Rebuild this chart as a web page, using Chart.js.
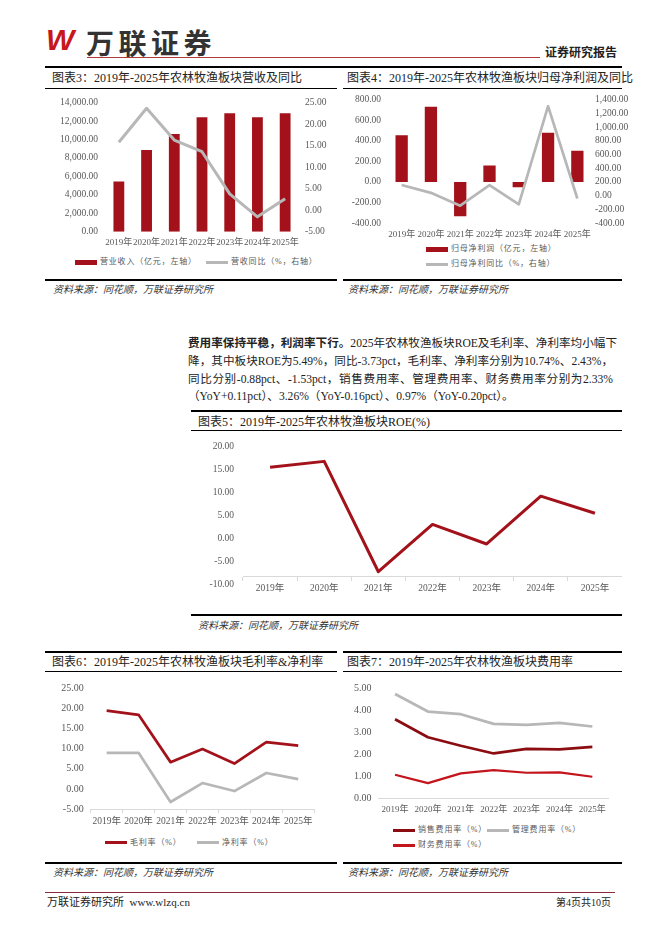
<!DOCTYPE html>
<html>
<head>
<meta charset="utf-8">
<script src="https://cdn.jsdelivr.net/npm/chart.js@4.4.0/dist/chart.umd.min.js"></script>
<style>
body{margin:0;width:662px;height:936px;background:#fff;position:relative;overflow:hidden;font-family:'Liberation Serif','Noto Sans CJK SC',serif;color:#222}
.a{position:absolute;white-space:nowrap}
.hr{position:absolute;background:#000}
.ttl{position:absolute;font-size:12px;line-height:16px;color:#222;white-space:nowrap}
.src{position:absolute;font-size:10px;line-height:14px;font-style:italic;color:#333;white-space:nowrap}
canvas{position:absolute}
.lg{position:absolute;font-size:8px;line-height:12px;letter-spacing:0.8px;color:#595959;white-space:nowrap}
.sw{position:absolute}
.para{position:absolute;left:188px;top:334px;width:425px;font-size:11.6px;line-height:17.8px;color:#222}
.para div{text-align:justify;text-align-last:justify;white-space:nowrap}
.para div.last{text-align-last:left}
</style>
</head>
<body>

<!-- header -->
<div class="a" style="left:46px;top:23px;font:italic bold 30px 'Liberation Sans';color:#c8161d">W</div>
<div class="a" style="left:86px;top:22px;font:bold 28px 'Noto Sans CJK SC';letter-spacing:4.5px;color:#333">万联证券</div>
<div class="hr" style="left:87px;top:57px;width:453px;height:1px;background:#b03a3a"></div>
<div class="a" style="left:545px;top:43px;font:bold 12px 'Noto Sans CJK SC';color:#222">证券研究报告</div>
<div class="hr" style="left:45px;top:66px;width:577px;height:2px"></div>

<!-- figure 3 / 4 frames -->
<div class="ttl" style="left:52px;top:70px">图表3：2019年-2025年农林牧渔板块营收及同比</div>
<div class="ttl" style="left:347px;top:70px">图表4：2019年-2025年农林牧渔板块归母净利润及同比</div>
<div class="hr" style="left:45px;top:88px;width:292px;height:1px"></div>
<div class="hr" style="left:343px;top:88px;width:279px;height:1px"></div>
<div class="hr" style="left:45px;top:279px;width:292px;height:2px"></div>
<div class="hr" style="left:343px;top:279px;width:279px;height:2px"></div>
<div class="src" style="left:53px;top:283px">资料来源：同花顺，万联证券研究所</div>
<div class="src" style="left:348px;top:283px">资料来源：同花顺，万联证券研究所</div>

<!-- paragraph -->
<div class="para">
<div><b style="font-family:'Noto Sans CJK SC'">费用率保持平稳，利润率下行。</b>2025年农林牧渔板块ROE及毛利率、净利率均小幅下</div>
<div>降，其中板块ROE为5.49%，同比-3.73pct，毛利率、净利率分别为10.74%、2.43%，</div>
<div>同比分别-0.88pct、-1.53pct，销售费用率、管理费用率、财务费用率分别为2.33%</div>
<div class="last">（YoY+0.11pct）、3.26%（YoY-0.16pct）、0.97%（YoY-0.20pct）。</div>
</div>

<!-- figure 5 frame -->
<div class="hr" style="left:191px;top:410px;width:431px;height:2px"></div>
<div class="ttl" style="left:198px;top:414px">图表5：2019年-2025年农林牧渔板块ROE(%)</div>
<div class="hr" style="left:191px;top:430px;width:431px;height:1px"></div>
<div class="hr" style="left:191px;top:614px;width:431px;height:2px"></div>
<div class="src" style="left:198px;top:619px">资料来源：同花顺，万联证券研究所</div>

<!-- figure 6 / 7 frames -->
<div class="hr" style="left:45px;top:651px;width:292px;height:2px"></div>
<div class="hr" style="left:343px;top:651px;width:279px;height:2px"></div>
<div class="ttl" style="left:52px;top:654px">图表6：2019年-2025年农林牧渔板块毛利率&amp;净利率</div>
<div class="ttl" style="left:347px;top:654px">图表7：2019年-2025年农林牧渔板块费用率</div>
<div class="hr" style="left:45px;top:671px;width:292px;height:1px"></div>
<div class="hr" style="left:343px;top:671px;width:279px;height:1px"></div>
<div class="hr" style="left:45px;top:862px;width:292px;height:2px"></div>
<div class="hr" style="left:343px;top:862px;width:279px;height:2px"></div>
<div class="src" style="left:53px;top:866px">资料来源：同花顺，万联证券研究所</div>
<div class="src" style="left:348px;top:866px">资料来源：同花顺，万联证券研究所</div>

<!-- footer -->
<div class="hr" style="left:45px;top:892px;width:570px;height:1px;background:#8b2c3c"></div>
<div class="a" style="left:47px;top:895px;font-size:11px;line-height:14px;color:#222">万联证券研究所&nbsp; www.wlzq.cn</div>
<div class="a" style="left:556px;top:896px;font-size:10px;line-height:13px;color:#222">第4页共10页</div>

<script>
var years = ['2019年', '2020年', '2021年', '2022年', '2023年', '2024年', '2025年'];

// 图表3 营收（亿元）及同比（%）
var revenue = [5460, 8860, 10600, 12430, 12860, 12430, 12860];
var revenueYoY = [15.8, 23.7, 16.3, 13.6, 3.8, -1.55, 2.65];

// 图表4 归母净利润（亿元）及同比（%）
var netProfit = [455, 732, -334, 159, -51, 478, 302];
var netProfitYoY = [154, 40, -147, 154, -128, 1305, -42];

// 图表5 ROE（%）
var roe = [15.5, 16.8, -7.26, 3.06, -1.21, 9.22, 5.49];

// 图表6 毛利率、净利率（%）
var grossMargin = [19.46, 18.4, 6.65, 9.9, 6.3, 11.62, 10.74];
var netMargin = [8.97, 8.97, -3.26, 1.45, -0.54, 3.96, 2.43];

// 图表7 费用率（%）
var salesRate = [3.59, 2.77, 2.38, 2.03, 2.24, 2.22, 2.33];
var adminRate = [4.74, 3.94, 3.82, 3.38, 3.33, 3.42, 3.26];
var financeRate = [1.06, 0.68, 1.12, 1.27, 1.15, 1.17, 0.97];

var RED = '#a3111a';
var DARKRED = '#8b0d12';
var BRIGHTRED = '#c4141c';
var GRAY = '#b7b7b7';
var AXIS = '#d9d9d9';

Chart.defaults.font.family = "'Liberation Serif','Noto Sans CJK SC',serif";
Chart.defaults.font.size = 9;
Chart.defaults.color = '#595959';
Chart.defaults.animation = false;
Chart.defaults.plugins.legend.display = false;
Chart.defaults.plugins.tooltip.enabled = false;

function fmt(v) {
    return Number(v).toLocaleString('en-US', {minimumFractionDigits: 2, maximumFractionDigits: 2});
}
function fixW(w) { return function(s) { s.width = w; }; }
function fixH(h) { return function(s) { s.height = h; }; }

function mk(left, top, w, h) {
    var c = document.createElement('canvas');
    c.width = w; c.height = h;
    c.style.left = left + 'px'; c.style.top = top + 'px';
    c.style.width = w + 'px'; c.style.height = h + 'px';
    document.body.appendChild(c);
    return c;
}

function legend(x, y, ds, kind) {
    var s = document.createElement('div');
    s.className = 'sw';
    var color = kind === 'rect' ? ds.backgroundColor : ds.borderColor;
    var h = kind === 'rect' ? 5 : 3;
    s.style.cssText = 'left:' + x + 'px;top:' + (y - h / 2) + 'px;width:22px;height:' + h + 'px;background:' + color;
    document.body.appendChild(s);
    var t = document.createElement('div');
    t.className = 'lg';
    t.textContent = ds.label;
    t.style.left = (x + 25) + 'px';
    t.style.top = (y - 6) + 'px';
    document.body.appendChild(t);
}

function yAxis(pos, min, max, step, pad, w, size) {
    return {
        position: pos, min: min, max: max,
        ticks: {stepSize: step, padding: pad, callback: fmt, autoSkip: false, font: {size: size}},
        grid: {display: false, drawTicks: false},
        border: {display: false},
        afterFit: fixW(w)
    };
}

// ---- 图表3 ----
var c3bar = {type: 'bar', label: '营业收入（亿元，左轴）', data: revenue, yAxisID: 'y',
    backgroundColor: RED, barPercentage: 0.39, categoryPercentage: 1, order: 2};
var c3line = {type: 'line', label: '营收同比（%，右轴）', data: revenueYoY, yAxisID: 'y1',
    borderColor: GRAY, borderWidth: 3, pointRadius: 0, borderJoinStyle: 'round', order: 1};
new Chart(mk(45, 90, 292, 160), {
    type: 'bar',
    data: {labels: years, datasets: [c3line, c3bar]},
    options: {
        responsive: false,
        layout: {padding: {top: 11, left: 0, right: 0, bottom: 0}},
        scales: {
            x: {grid: {display: false, drawTicks: false}, border: {display: false},
                ticks: {padding: 6, maxRotation: 0, autoSkip: false, font: {size: 9}}, afterFit: fixH(18.3)},
            y: yAxis('left', 0, 14000, 2000, 7, 60, 9.5),
            y1: yAxis('right', -5, 25, 5, 6, 38, 9.5)
        }
    }
});
legend(75, 262, c3bar, 'rect');
legend(206, 262, c3line, 'line');

// ---- 图表4 ----
var c4bar = {type: 'bar', label: '归母净利润（亿元，左轴）', data: netProfit, yAxisID: 'y',
    backgroundColor: RED, barPercentage: 0.42, categoryPercentage: 1, order: 2};
var c4line = {type: 'line', label: '归母净利同比（%，右轴）', data: netProfitYoY, yAxisID: 'y1',
    borderColor: GRAY, borderWidth: 2.7, pointRadius: 0, borderJoinStyle: 'round', order: 1};
new Chart(mk(343, 88, 292, 153.3), {
    type: 'bar',
    data: {labels: years, datasets: [c4line, c4bar]},
    options: {
        responsive: false,
        layout: {padding: {top: 9.7, left: 0, right: 0, bottom: 0}},
        scales: {
            x: {grid: {display: false, drawTicks: false}, border: {display: false},
                ticks: {padding: 6, maxRotation: 0, autoSkip: false, font: {size: 9}}, afterFit: fixH(18)},
            y: yAxis('left', -400, 800, 200, 6, 44, 9.5),
            y1: yAxis('right', -400, 1400, 200, 3, 43, 9.5)
        }
    }
});
legend(426, 249, c4bar, 'rect');
legend(426, 264, c4line, 'line');

// ---- 图表5 ----
new Chart(mk(188, 432, 434, 173), {
    type: 'line',
    data: {labels: years, datasets: [
        {label: 'ROE', data: roe, borderColor: RED, borderWidth: 3, pointRadius: 0, borderJoinStyle: 'round'}
    ]},
    options: {
        responsive: false,
        layout: {padding: {top: 12, left: 0, right: 0, bottom: 20.7}},
        scales: {
            x: {position: {y: -8.2}, offset: true,
                grid: {offset: true, drawOnChartArea: false, tickLength: 4, color: AXIS},
                border: {color: AXIS},
                ticks: {padding: 3, maxRotation: 0, autoSkip: false, font: {size: 9.5}}},
            y: yAxis('left', -10, 20, 5, 9, 55, 9.5)
        }
    }
});

// ---- 图表6 ----
var c6gross = {label: '毛利率（%）', data: grossMargin, borderColor: RED, borderWidth: 2.7, pointRadius: 0, borderJoinStyle: 'round'};
var c6net = {label: '净利率（%）', data: netMargin, borderColor: GRAY, borderWidth: 2.7, pointRadius: 0, borderJoinStyle: 'round'};
new Chart(mk(45, 672, 292, 157.3), {
    type: 'line',
    data: {labels: years, datasets: [c6gross, c6net]},
    options: {
        responsive: false,
        layout: {padding: {top: 16.3, left: 0, right: 22.8, bottom: 0}},
        scales: {
            x: {offset: true,
                grid: {offset: true, drawOnChartArea: false, tickLength: 4, color: AXIS},
                border: {color: AXIS},
                ticks: {padding: 3, maxRotation: 0, autoSkip: false, font: {size: 9.5}}, afterFit: fixH(20)},
            y: yAxis('left', -5, 25, 5, 7, 45.7, 10)
        }
    }
});
legend(105, 842.7, c6gross, 'line');
legend(197, 842.7, c6net, 'line');

// ---- 图表7 ----
var c7sales = {label: '销售费用率（%）', data: salesRate, borderColor: DARKRED, borderWidth: 2.7, pointRadius: 0, borderJoinStyle: 'round'};
var c7admin = {label: '管理费用率（%）', data: adminRate, borderColor: GRAY, borderWidth: 2.7, pointRadius: 0, borderJoinStyle: 'round'};
var c7fin = {label: '财务费用率（%）', data: financeRate, borderColor: BRIGHTRED, borderWidth: 2.2, pointRadius: 0, borderJoinStyle: 'round'};
new Chart(mk(343, 672, 279, 146.3), {
    type: 'line',
    data: {labels: years, datasets: [c7sales, c7admin, c7fin]},
    options: {
        responsive: false,
        layout: {padding: {top: 16.3, left: 0, right: 13.2, bottom: 0}},
        scales: {
            x: {offset: true,
                grid: {drawOnChartArea: false, drawTicks: false, color: AXIS},
                border: {color: AXIS},
                ticks: {padding: 6, maxRotation: 0, autoSkip: false, font: {size: 9}}, afterFit: fixH(20)},
            y: yAxis('left', 0, 5, 1, 7, 35.6, 10)
        }
    }
});
legend(393, 830, c7sales, 'line');
legend(487, 830, c7admin, 'line');
legend(393, 845.3, c7fin, 'line');
</script>
</body>
</html>
